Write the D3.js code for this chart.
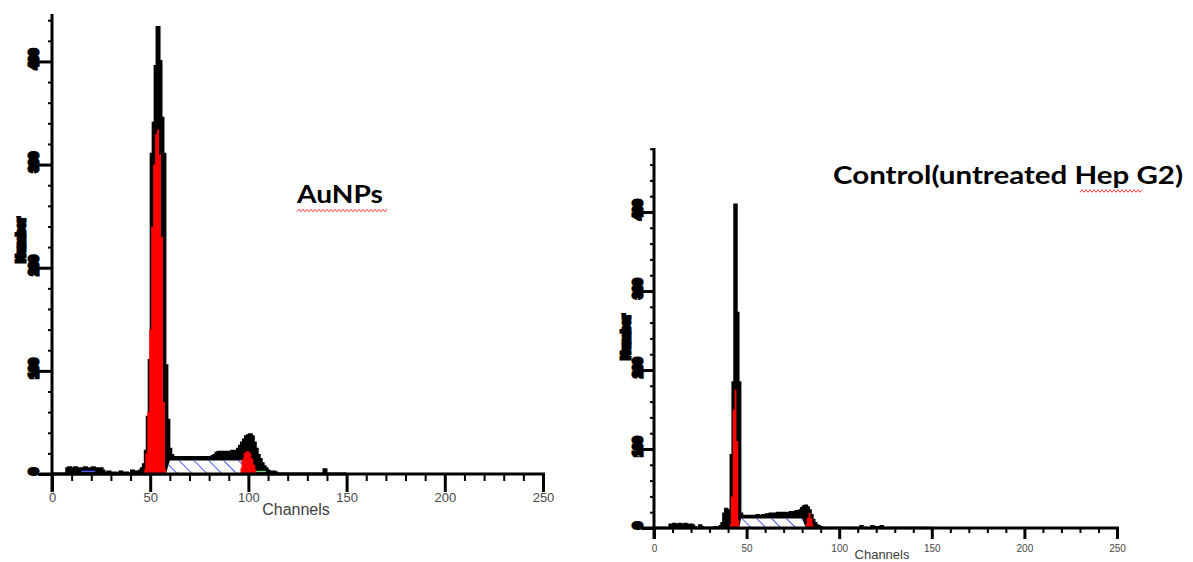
<!DOCTYPE html>
<html>
<head>
<meta charset="utf-8">
<script src="https://cdn.jsdelivr.net/npm/d3@7"></script>
<style>
  body { margin: 0; background: #fff; }
  svg { display: block; }
</style>
</head>
<body>
<div id="chart"></div>
<script>
// ---- data ----
const channelTicks = [0, 50, 100, 150, 200, 250];
const countTicks = [0, 100, 200, 300, 400];

// [channel, count] — channels not listed are 0
const aunpsHist = [
  [8,5],[9,6],[10,5],[11,5],[12,6],[13,5],[14,5],[15,4],[16,5],[17,6],[18,5],[19,5],
  [20,5],[21,6],[22,5],[23,5],[24,4],[25,5],[26,3],[27,1],[28,1],[29,2],[30,1],[32,1],
  [35,2],[36,1],[38,1],[41,3],[42,1],[43,2],[44,2],[45,3],[46,5],[47,9],[48,22],[49,55],
  [50,110],[51,310],[52,340],[53,395],[54,433],[55,400],[56,345],[57,310],[58,105],[59,52],
  [60,24],[61,18],[62,16],[63,15],[64,16],[65,16],[66,15],[67,16],[68,16],[69,16],
  [70,16],[71,15],[72,16],[73,16],[74,16],[75,16],[76,16],[77,15],[78,16],[79,16],
  [80,16],[81,16],[82,17],[83,18],[84,20],[85,21],[86,20],[87,21],[88,20],[89,21],
  [90,21],[91,20],[92,22],[93,21],[94,22],[95,24],[96,27],[97,30],[98,33],[99,36],
  [100,37],[101,38],[102,36],[103,30],[104,24],[105,18],[106,14],[107,10],[108,7],[109,5],
  [110,3],[111,2],[112,1],[113,2],[114,1],[139,4]
];
const aunpsG1 = [[47,5],[48,20],[49,60],[50,140],[51,240],[52,300],[53,330],[54,334],[55,310],[56,230],[57,70],[58,5]];
const aunpsG2 = [[96,6],[97,14],[98,20],[99,22],[100,22],[101,20],[102,15],[103,9],[104,4]];
const aunpsSPhase = [[58,0],[60,13],[97,13],[99,0]];
const aunpsMarkerBlue = [15, 22];
const aunpsMarkerGreen = [104, 109];

const controlHist = [
  [9,4],[10,4],[11,5],[12,4],[13,4],[14,5],[15,4],[16,4],[17,5],[18,4],[19,4],[20,4],
  [21,3],[22,1],[25,3],[26,1],[33,1],[36,2],[37,6],[38,18],[39,24],[40,20],[41,22],
  [42,92],[43,184],[44,409],[45,272],[46,184],[47,18],[48,15],[49,15],[50,15],[51,15],
  [52,15],[53,15],[54,15],[55,15],[56,16],[57,15],[58,15],[59,16],[60,16],[61,17],
  [62,17],[63,18],[64,17],[65,18],[66,18],[67,19],[68,19],[69,18],[70,19],[71,19],
  [72,19],[73,19],[74,20],[75,19],[76,20],[77,21],[78,21],[79,22],[80,25],[81,27],
  [82,28],[83,26],[84,22],[85,16],[86,10],[87,6],[88,3],[89,2],[90,1],
  [112,2],[118,2],[119,1],[121,1],[123,2]
];
const controlG1 = [[41,5],[42,40],[43,150],[44,175],[45,110],[46,10]];
const controlG2 = [[82,5],[83,13],[84,19],[85,12],[86,4]];
const controlSPhase = [[46,0],[47,12],[80,12],[82,0]];

const width = 1193, height = 562;

const svg = d3.select("#chart").append("svg")
  .attr("width", width)
  .attr("height", height);

// blue hatching for the S phase
svg.append("defs").append("pattern")
  .attr("id", "hatch")
  .attr("patternUnits", "userSpaceOnUse")
  .attr("width", 10.5)
  .attr("height", 10.5)
  .attr("patternTransform", "rotate(-45)")
  .append("line")
  .attr("x1", 0).attr("y1", 0).attr("x2", 0).attr("y2", 10.5)
  .attr("stroke", "#1428ff")
  .attr("stroke-width", 1.5);

// fill missing channels with 0 so the step line drops to the axis
function dense(pairs, lastCh) {
  const m = new Map(pairs);
  return d3.range(0, lastCh + 1).map(c => [c, m.get(c) || 0]);
}

const blobFont = "'Liberation Sans', Arial, sans-serif";

function drawPanel(p) {
  const x = d3.scaleLinear().domain([0, 250]).range(p.xRange);
  const y = d3.scaleLinear().domain([0, p.yMax]).range(p.yRange);
  const g = svg.append("g");
  const y0 = y(0);

  // data histogram, filled black
  const hist = dense(p.hist, 150);
  g.append("path")
    .datum(hist)
    .attr("d", d3.area().curve(d3.curveStep).x(d => x(d[0])).y0(y0).y1(d => y(d[1])))
    .attr("fill", "#000")
    .attr("stroke", "#000")
    .attr("stroke-width", p.lw)
    .attr("stroke-linejoin", "miter");

  // S phase: white under the hatch
  const sArea = d3.area().x(d => x(d[0])).y0(y0).y1(d => y(d[1]));
  g.append("path").datum(p.sPhase).attr("d", sArea).attr("fill", "#fff");
  g.append("path").datum(p.sPhase).attr("d", sArea).attr("fill", "url(#hatch)");

  // G1 / G2 fits in red
  [p.g1, p.g2].forEach(fit => {
    g.append("path")
      .datum(fit)
      .attr("d", d3.area().curve(d3.curveStep).x(d => x(d[0])).y0(y0).y1(d => y(d[1])))
      .attr("fill", "#ff0000");
  });

  // small region markers
  (p.markers || []).forEach(mk => {
    g.append("line")
      .attr("x1", x(mk.range[0])).attr("x2", x(mk.range[1]))
      .attr("y1", y0 - 2.5).attr("y2", y0 - 2.5)
      .attr("stroke", mk.color).attr("stroke-width", 1.5);
  });

  // x axis: minor ticks, major ticks + labels
  g.append("g")
    .attr("transform", `translate(0,${y0})`)
    .call(d3.axisBottom(x).tickValues(d3.range(10, 250, 10).filter(v => v % 50)).tickSize(p.xMinor).tickFormat(""))
    .call(a => a.select(".domain").remove())
    .call(a => a.selectAll("line").attr("stroke", "#000").attr("stroke-width", 2));

  g.append("g")
    .attr("transform", `translate(0,${y0})`)
    .call(d3.axisBottom(x).tickValues(channelTicks).tickSize(p.xMajor).tickPadding(p.xPad))
    .call(a => a.select(".domain").remove())
    .call(a => a.selectAll("line").attr("stroke", "#000").attr("stroke-width", 3))
    .call(a => a.selectAll("text")
      .attr("fill", "#484848")
      .style("font-family", blobFont)
      .style("font-size", p.xFont + "px"));

  // y axis: minor ticks, major ticks + rotated (blotted) labels
  g.append("g")
    .attr("transform", `translate(${x(0)},0)`)
    .call(d3.axisLeft(y).tickValues(d3.range(20, p.yMax, 20).filter(v => v % 100)).tickSize(4).tickFormat(""))
    .call(a => a.select(".domain").remove())
    .call(a => a.selectAll("line").attr("stroke", "#000").attr("stroke-width", 2));

  g.append("g")
    .attr("transform", `translate(${x(0)},0)`)
    .call(d3.axisLeft(y).tickValues(countTicks).tickSize(p.yMajor))
    .call(a => a.select(".domain").remove())
    .call(a => a.selectAll("line").attr("stroke", "#000").attr("stroke-width", 3))
    .call(a => a.selectAll("text")
      .attr("x", null).attr("dy", null)
      .attr("text-anchor", "middle")
      .attr("transform", `translate(${-p.yMajor - 0.5},-3) rotate(-90)`)
      .attr("fill", "#000")
      .attr("stroke", "#000")
      .attr("stroke-width", 3.2)
      .attr("stroke-linejoin", "miter")
      .style("font-family", blobFont)
      .style("font-weight", "bold")
      .style("font-size", "12px"));

  // axis lines
  g.append("line")
    .attr("x1", p.xLineStart).attr("x2", x(250) + 2)
    .attr("y1", y0).attr("y2", y0)
    .attr("stroke", "#000").attr("stroke-width", 3);
  g.append("line")
    .attr("x1", x(0)).attr("x2", x(0))
    .attr("y1", y(p.yMax)).attr("y2", y0 + p.xMajor)
    .attr("stroke", "#000").attr("stroke-width", 3);

  // axis titles
  g.append("text")
    .attr("transform", `translate(${p.numberPos[0]},${p.numberPos[1]}) rotate(-90)`)
    .attr("text-anchor", "middle")
    .attr("fill", "#000").attr("stroke", "#000").attr("stroke-width", 3)
    .attr("stroke-linejoin", "miter")
    .style("font-family", blobFont)
    .style("font-weight", "bold")
    .style("font-size", "12px")
    .text("Number");

  g.append("text")
    .attr("x", p.channelsPos[0]).attr("y", p.channelsPos[1])
    .attr("text-anchor", "middle")
    .attr("fill", "#404040")
    .style("font-family", blobFont)
    .style("font-size", p.channelsFont + "px")
    .text("Channels");

  // panel title with spell-check squiggle
  g.append("text")
    .attr("x", p.title.x).attr("y", p.title.y)
    .attr("textLength", p.title.len)
    .attr("lengthAdjust", "spacingAndGlyphs")
    .attr("fill", "#000")
    .style("font-family", "Lato, 'Open Sans', sans-serif")
    .style("font-weight", "bold")
    .style("font-size", p.title.size + "px")
    .text(p.title.text);

  const sq = p.title.squiggle;
  const pts = d3.range(sq[0], sq[1] + 0.1, 2).map((px, i) => [px, sq[2] + (i % 2 ? -1.3 : 1.3)]);
  g.append("path")
    .attr("d", d3.line()(pts))
    .attr("fill", "none")
    .attr("stroke", "#ff3b3b")
    .attr("stroke-width", 1);
}

drawPanel({
  xRange: [52, 543], yRange: [474, 14], yMax: 446,
  hist: aunpsHist, g1: aunpsG1, g2: aunpsG2, sPhase: aunpsSPhase,
  markers: [{ range: aunpsMarkerBlue, color: "#4a5cff" }, { range: aunpsMarkerGreen, color: "#7fd07f" }],
  lw: 3, xMinor: 7, xMajor: 18, xPad: 1, xFont: 13, yMajor: 14, xLineStart: 40,
  numberPos: [25, 240], channelsPos: [296, 515], channelsFont: 16,
  title: { text: "AuNPs", x: 297, y: 203, len: 86, size: 25, squiggle: [297, 388, 210.5] }
});

drawPanel({
  xRange: [654, 1117], yRange: [528, 148], yMax: 481,
  hist: controlHist, g1: controlG1, g2: controlG2, sPhase: controlSPhase,
  lw: 2.6, xMinor: 5, xMajor: 11, xPad: 6, xFont: 10, yMajor: 12, xLineStart: 641,
  numberPos: [630, 337], channelsPos: [882, 559], channelsFont: 13,
  title: { text: "Control(untreated Hep G2)", x: 833, y: 184, len: 350, size: 25, squiggle: [1080, 1142, 191] }
});
</script>
</body>
</html>
